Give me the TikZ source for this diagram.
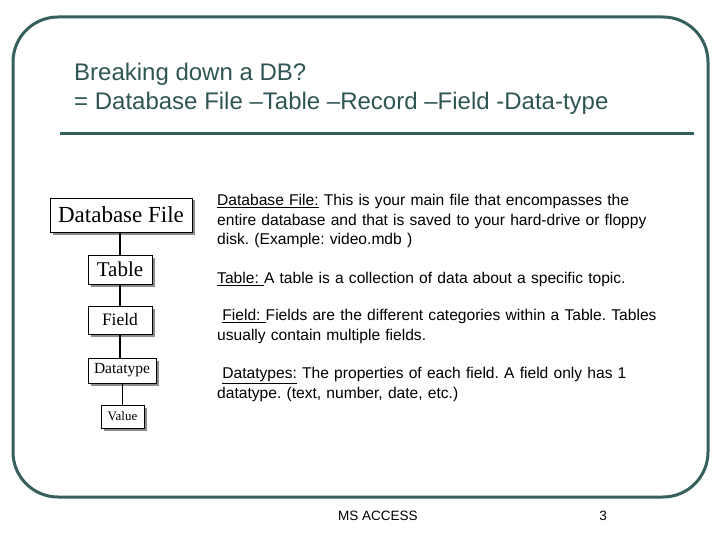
\documentclass[tikz,border=0pt]{standalone}
\usepackage{fontspec}
\setmainfont{Liberation Sans}
\newfontfamily\serifbox{Liberation Serif}
\usetikzlibrary{shadows}
\definecolor{frame}{HTML}{35605E}
\definecolor{ttl}{HTML}{2F5553}
\hyphenpenalty=10000
\exhyphenpenalty=10000
\frenchspacing
\tikzset{
  hbox/.style={draw=black, line width=0.6pt, fill=white, font=\serifbox, inner sep=0pt,
    drop shadow={shadow xshift=2.5pt, shadow yshift=-2.5pt, fill=black!45, opacity=1}},
  body/.style={anchor=north west, align=left, text width=455pt, font=\fontsize{15.6}{19.5}\selectfont, inner sep=0pt}
}
\begin{document}
\begin{tikzpicture}[x=1pt,y=-1pt]
\useasboundingbox (0,0) rectangle (720,540);
\draw[frame, line width=3pt, rounded corners=45pt] (13,17) rectangle (708,497);
\node[anchor=west, text=ttl, font=\fontsize{24}{29}\selectfont, align=left, inner sep=0pt] (title) at (74,89) {Breaking down a DB?\\= Database File --Table --Record --Field -Data-type};
\draw[frame, line width=3pt] (60,134) coordinate (r1) -- (694,134) coordinate (r2);
% hierarchy
\node[hbox, minimum width=142pt, minimum height=34pt, font=\serifbox\fontsize{23}{23}\selectfont] (db) at (121,215) {Database File};
\node[hbox, minimum width=64pt, minimum height=29pt, font=\serifbox\fontsize{21}{21}\selectfont] (tb) at (120,269.5) {Table};
\node[hbox, minimum width=64pt, minimum height=28pt, font=\serifbox\fontsize{17.5}{17.5}\selectfont] (fd) at (120,320) {Field};
\node[hbox, minimum width=68pt, minimum height=25pt, font=\serifbox\fontsize{15.5}{15.5}\selectfont] (dt) at (122,370.5) {Datatype};
\node[hbox, minimum width=43pt, minimum height=23pt, font=\serifbox\fontsize{13}{13}\selectfont] (vl) at (122.5,416.5) {Value};
\draw[line width=1.5pt] (db.south -| tb.north) -- (tb.north);
\draw[line width=1.5pt] (tb) -- (fd);
\draw[line width=1.5pt] (fd.south) -- (fd.south |- dt.north);
\draw[line width=1.5pt] (dt.south -| vl.north) -- (vl.north);
% texts
\node[body] (t1) at (217,194) {\underline{Database File:} This is your main file that encompasses the entire database and that is saved to your hard-drive or floppy disk. (Example: video.mdb )};
\node[body] (t2) at (217,272) {\underline{Table: }A table is a collection of data about a specific topic.};
\node[body] (t3) at (217,309) {\ \underline{Field: }Fields are the different categories within a Table. Tables usually contain multiple fields.};
\node[body] (t4) at (217,367) {\ \underline{Datatypes:} The properties of each field. A field only has 1 datatype. (text, number, date, etc.)};
\node[font=\fontsize{13.5}{13.5}\selectfont] (ft) at (378,516) {MS ACCESS};
\node[font=\fontsize{13.5}{13.5}\selectfont] (pg) at (603,516) {3};
\end{tikzpicture}
\end{document}
